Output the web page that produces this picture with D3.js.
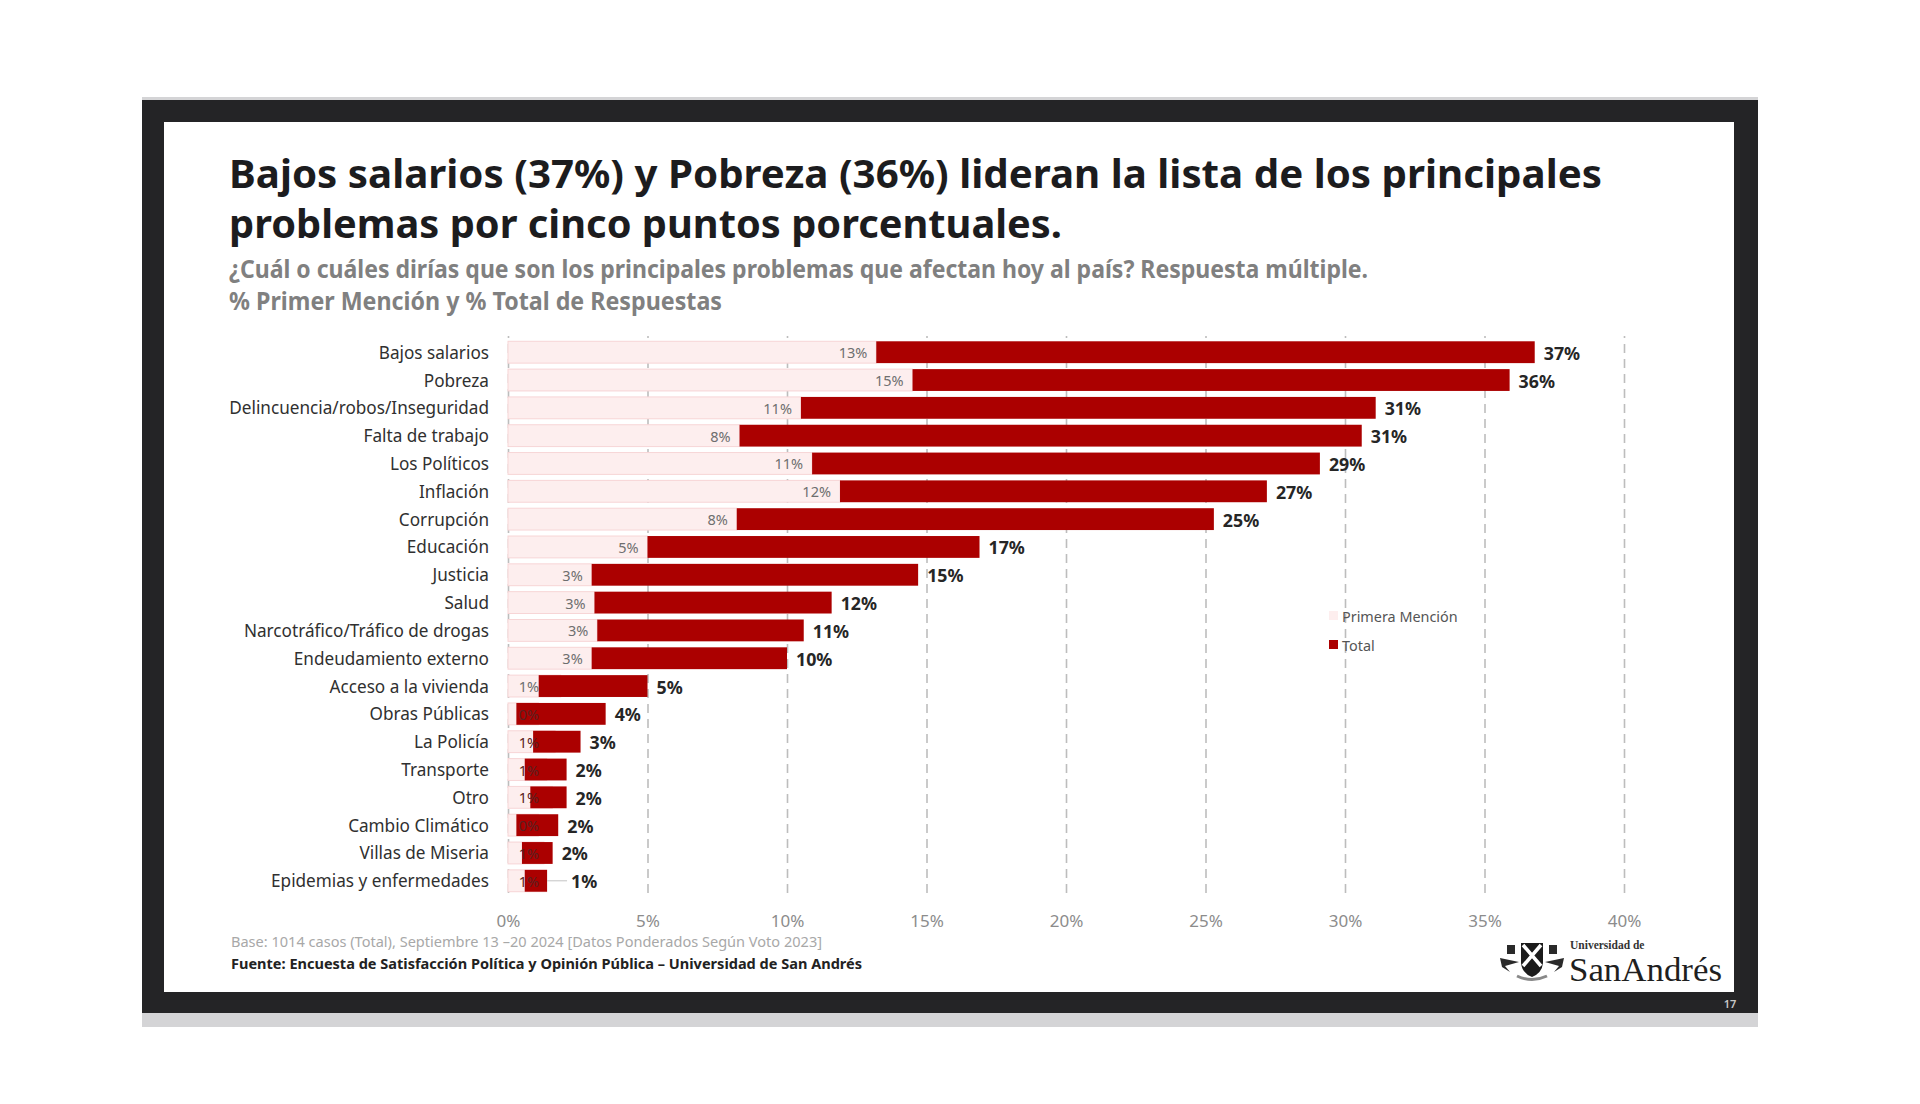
<!DOCTYPE html>
<html><head><meta charset="utf-8">
<script src="https://cdn.jsdelivr.net/npm/d3@7"></script>
<style>html,body{margin:0;padding:0;background:#fff}svg{display:block}text{font-family:"Noto Sans",sans-serif}</style>
</head><body><svg id="c" width="1920" height="1104"></svg>
<script>
const categories=["Bajos salarios","Pobreza","Delincuencia/robos/Inseguridad","Falta de trabajo","Los Políticos","Inflación","Corrupción","Educación","Justicia","Salud","Narcotráfico/Tráfico de drogas","Endeudamiento externo","Acceso a la vivienda","Obras Públicas","La Policía","Transporte","Otro","Cambio Climático","Villas de Miseria","Epidemias y enfermedades"];
const primeraMencion=[13.2,14.5,10.5,8.3,10.9,11.9,8.2,5.0,3.0,3.1,3.2,3.0,1.1,0.3,0.9,0.6,0.8,0.3,0.5,0.6];
const total=[36.8,35.9,31.1,30.6,29.1,27.2,25.3,16.9,14.7,11.6,10.6,10.0,5.0,3.5,2.6,2.1,2.1,1.8,1.6,1.4];
const primeraLabels=["13%","15%","11%","8%","11%","12%","8%","5%","3%","3%","3%","3%","1%","0%","1%","1%","1%","0%","1%","1%"];
const totalLabels=["37%","36%","31%","31%","29%","27%","25%","17%","15%","12%","11%","10%","5%","4%","3%","2%","2%","2%","2%","1%"];
const xTicks=[0,5,10,15,20,25,30,35,40];
const titleLines=["Bajos salarios (37%) y Pobreza (36%) lideran la lista de los principales","problemas por cinco puntos porcentuales."];
const subtitleLines=["¿Cuál o cuáles dirías que son los principales problemas que afectan hoy al país? Respuesta múltiple.","% Primer Mención y % Total de Respuestas"];
const baseNote="Base: 1014 casos (Total), Septiembre 13 –20 2024 [Datos Ponderados Según Voto 2023]";
const sourceNote="Fuente: Encuesta de Satisfacción Política y Opinión Pública – Universidad de San Andrés";
const legendItems=["Primera Mención","Total"];

const svg=d3.select("#c");
const dark="#ab0000",pink="#fdeeee",pinkEdge="#f7d5d6";
// slide frame
svg.append("rect").attr("x",142).attr("y",97).attr("width",1616).attr("height",930).attr("fill","#d4d4d6");
svg.append("rect").attr("x",142).attr("y",100).attr("width",1616).attr("height",913).attr("fill","#242426");
svg.append("rect").attr("x",164).attr("y",122).attr("width",1570).attr("height",870).attr("fill","#fff");
svg.append("text").attr("x",1730).attr("y",1008).attr("text-anchor","middle").attr("font-size",11).attr("font-weight",600).attr("fill","#c8c8c8").text("17");

// header
const fit=(sel,w)=>sel.attr("textLength",w).attr("lengthAdjust","spacingAndGlyphs");
fit(svg.append("text").attr("x",229).attr("y",188).attr("font-size",40).attr("font-weight",700).attr("fill","#1c1c1e").text(titleLines[0]),1373);
fit(svg.append("text").attr("x",229).attr("y",238).attr("font-size",40).attr("font-weight",700).attr("fill","#1c1c1e").text(titleLines[1]),833);
fit(svg.append("text").attr("x",229).attr("y",278).attr("font-size",25).attr("font-weight",700).attr("fill","#808080").text(subtitleLines[0]),1139);
fit(svg.append("text").attr("x",229).attr("y",310).attr("font-size",25).attr("font-weight",700).attr("fill","#808080").text(subtitleLines[1]),493);

// scales
const x=d3.scaleLinear().domain([0,40]).range([508,1624]);
const y=d3.scaleBand().domain(categories).range([338.5,894.5]).paddingInner(0.215).paddingOuter(0.1);

// grid + x axis
const gridG=svg.append("g").attr("transform","translate(0,893)")
  .call(d3.axisBottom(x).tickValues(xTicks).tickSize(-554-3).tickFormat(""));
gridG.select(".domain").remove();
gridG.selectAll("line").attr("stroke","#bdbdbd").attr("stroke-width",1.6).attr("stroke-dasharray","9 6");
const axisG=svg.append("g").attr("transform","translate(0,915)")
  .call(d3.axisBottom(x).tickValues(xTicks).tickSize(0).tickPadding(0).tickFormat(d=>d+"%"));
axisG.select(".domain").remove();
axisG.selectAll("text").attr("font-size",17).attr("fill","#8c8c8c").style("font-family",'"Noto Sans",sans-serif');

const rows=categories.map((c,i)=>({c,p:primeraMencion[i],t:total[i],pl:primeraLabels[i],tl:totalLabels[i]}));
// bars
svg.append("g").selectAll("rect").data(rows).join("rect")
  .attr("x",x(0)).attr("y",d=>y(d.c)).attr("width",d=>x(d.t)-x(0)>0?x(d.p)-x(0)+ (d.p<2?22:0):0).attr("height",y.bandwidth())
  .attr("fill",pink).attr("stroke",pinkEdge).attr("stroke-width",1);
svg.append("g").selectAll("rect").data(rows).join("rect")
  .attr("x",d=>x(d.p)).attr("y",d=>y(d.c)).attr("width",d=>x(d.t)-x(d.p)).attr("height",y.bandwidth()).attr("fill",dark);
// leader line of last row
const last=rows[rows.length-1];
svg.append("line").attr("x1",x(last.t)).attr("x2",x(last.t)+20).attr("y1",y(last.c)+y.bandwidth()/2).attr("y2",y(last.c)+y.bandwidth()/2).attr("stroke","#c4c4c4");
// category labels
svg.append("g").selectAll("text").data(rows).join("text")
  .attr("x",489).attr("y",d=>y(d.c)+y.bandwidth()/2+6.5).attr("text-anchor","end").attr("font-size",17.5).attr("fill","#303030").text(d=>d.c)
  .each(function(){const w=this.getComputedTextLength();d3.select(this).attr("textLength",w*0.98).attr("lengthAdjust","spacingAndGlyphs")});
// first-mention labels
svg.append("g").selectAll("text").data(rows).join("text")
  .attr("x",d=>Math.max(x(d.p)-9,x(0)+31)).attr("y",d=>y(d.c)+y.bandwidth()/2+6).attr("text-anchor","end").attr("font-size",14.5)
  .attr("fill",d=>d.p<1?"#5a2020":"#6e6e6e").text(d=>d.pl);
// total labels
svg.append("g").selectAll("text").data(rows).join("text")
  .attr("x",(d,i)=>x(d.t)+(i===rows.length-1?24:9)).attr("y",d=>y(d.c)+y.bandwidth()/2+7.5).attr("font-size",17.8).attr("font-weight",700).attr("fill","#262626").text(d=>d.tl);

// legend
const lg=svg.append("g").selectAll("g").data(legendItems).join("g").attr("transform",(d,i)=>`translate(1329,${611+i*29})`);
lg.append("rect").attr("width",9).attr("height",9).attr("fill",(d,i)=>i?dark:pink);
lg.append("text").attr("x",13).attr("y",11).attr("font-size",14.4).attr("fill","#555").text(d=>d);

// notes
fit(svg.append("text").attr("x",231).attr("y",947).attr("font-size",14).attr("fill","#a8a8a8").text(baseNote),591);
fit(svg.append("text").attr("x",231).attr("y",969).attr("font-size",14).attr("font-weight",700).attr("fill","#222").text(sourceNote),631);

// logo
const logo=svg.append("g").attr("transform","translate(1497,940)");
logo.append("path").attr("d","M24 3h22v20q-1 10-11 14q-10-4-11-14z").attr("fill","#1b1b1b");
logo.append("path").attr("d","M26 5L44 26M44 5L26 26").attr("stroke","#fff").attr("stroke-width",3.5);
logo.append("path").attr("d","M3 18l19 4l-14 4l5 6l-8-5zM67 18l-19 4l14 4l-5 6l8-5zM10 5h8v9h-8zM52 5h8v9h-8z").attr("fill","#2a2a2a");
logo.append("path").attr("d","M20 36q15 7 30 0").attr("stroke","#888").attr("stroke-width",3).attr("fill","none");
logo.append("text").attr("x",73).attr("y",8.5).attr("font-size",11.5).attr("font-weight",700).attr("fill","#333").style("font-family",'"Liberation Serif",serif').text("Universidad de");
const sa=logo.append("text").attr("x",72).attr("y",41).attr("font-size",33).attr("fill","#1f1f1f").style("font-family",'"Liberation Serif",serif').text("SanAndrés");
fit(sa,153);
</script></body></html>
